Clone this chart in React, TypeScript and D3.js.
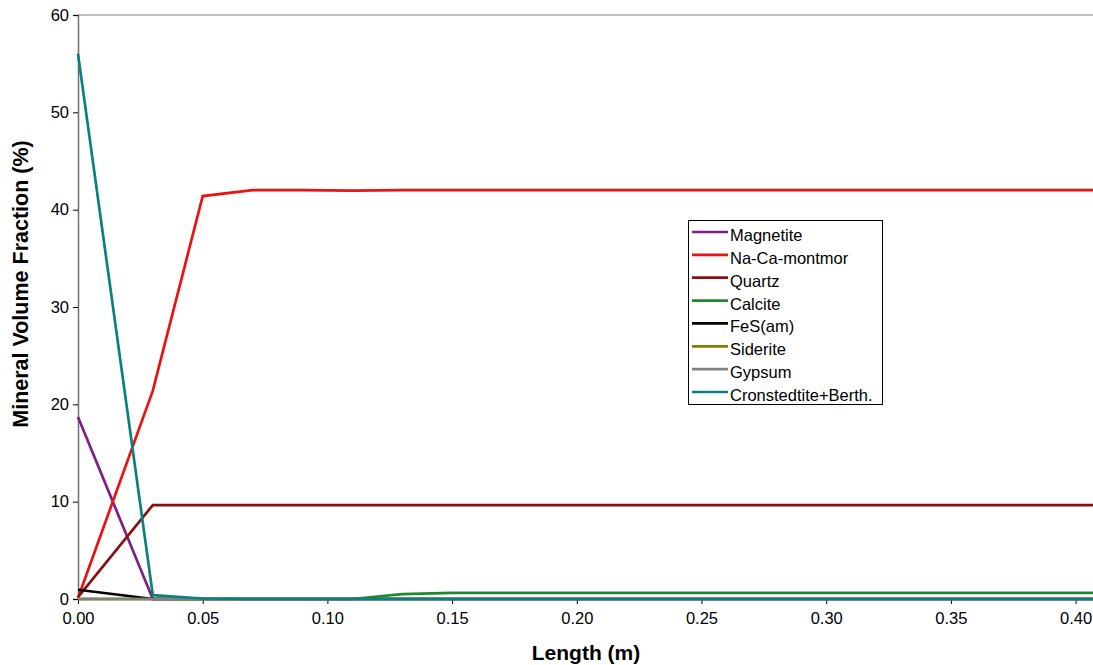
import React, { useEffect, useRef } from 'react';
import * as d3 from 'd3';

const lengths = [0, 0.03, 0.05, 0.07, 0.09, 0.11, 0.13, 0.15, 0.17, 0.19, 0.21, 0.23, 0.25, 0.27, 0.29, 0.31, 0.33, 0.35, 0.37, 0.39, 0.41];

const magnetite = [18.7, 0, 0, 0, 0, 0, 0, 0, 0, 0, 0, 0, 0, 0, 0, 0, 0, 0, 0, 0, 0];
const naCaMontmor = [0.1, 21.4, 41.4, 42.0, 42.0, 41.95, 42.0, 42.0, 42.0, 42.0, 42.0, 42.0, 42.0, 42.0, 42.0, 42.0, 42.0, 42.0, 42.0, 42.0, 42.0];
const quartz = [0.2, 9.65, 9.65, 9.65, 9.65, 9.65, 9.65, 9.65, 9.65, 9.65, 9.65, 9.65, 9.65, 9.65, 9.65, 9.65, 9.65, 9.65, 9.65, 9.65, 9.65];
const calcite = [0, 0, 0, 0, 0, 0, 0.5, 0.62, 0.62, 0.62, 0.62, 0.62, 0.62, 0.62, 0.62, 0.62, 0.62, 0.62, 0.62, 0.62, 0.62];
const fes = [0.95, 0, 0, 0, 0, 0, 0, 0, 0, 0, 0, 0, 0, 0, 0, 0, 0, 0, 0, 0, 0];
const siderite = [0, 0, 0, 0, 0, 0, 0, 0, 0, 0, 0, 0, 0, 0, 0, 0, 0, 0, 0, 0, 0];
const gypsum = [0, 0, 0, 0, 0, 0, 0, 0, 0, 0, 0, 0, 0, 0, 0, 0, 0, 0, 0, 0, 0];
const cronstedtite = [56.0, 0.4, 0.05, 0, 0, 0, 0, 0, 0, 0, 0, 0, 0, 0, 0, 0, 0, 0, 0, 0, 0];

const seriesNames = ['Magnetite', 'Na-Ca-montmor', 'Quartz', 'Calcite', 'FeS(am)', 'Siderite', 'Gypsum', 'Cronstedtite+Berth.'];
const seriesValues = [magnetite, naCaMontmor, quartz, calcite, fes, siderite, gypsum, cronstedtite];
const seriesColors = ['#7f1f86', '#ee1111', '#8a1010', '#1a8a2e', '#000000', '#808000', '#808080', '#0a8080'];

const xTicks = [0, 0.05, 0.1, 0.15, 0.2, 0.25, 0.3, 0.35, 0.4];
const yTicks = [0, 10, 20, 30, 40, 50, 60];

export default function App() {
  const ref = useRef<SVGSVGElement>(null);

  useEffect(() => {
    const svg = d3.select(ref.current);
    svg.selectAll('*').remove();

    const left = 78, top = 15, bottom = 599, right = 1093;
    const x = d3.scaleLinear().domain([0, 0.05]).range([left, left + 124.7]);
    const y = d3.scaleLinear().domain([0, 60]).range([bottom, top]);
    const font = 'Liberation Sans, Arial, sans-serif';

    svg.append('defs').append('clipPath').attr('id', 'plotclip')
      .append('rect').attr('x', left - 3).attr('y', top - 3).attr('width', right - left + 3).attr('height', bottom - top + 6);

    // plot border
    svg.append('line').attr('x1', left).attr('x2', right).attr('y1', top).attr('y2', top)
      .attr('stroke', '#808080').attr('stroke-width', 1.2);

    const yAxis = svg.append('g').attr('transform', `translate(${left},0)`)
      .call(d3.axisLeft(y).tickValues(yTicks).tickSize(5).tickPadding(4).tickFormat(d3.format('d')));
    yAxis.select('.domain').attr('stroke', '#707070').attr('stroke-width', 1.5);
    yAxis.selectAll('.tick line').attr('stroke', '#000');
    yAxis.selectAll('text').attr('font-family', font).attr('font-size', 16.5).attr('fill', '#000');

    const xAxis = svg.append('g').attr('transform', `translate(0,${bottom})`)
      .call(d3.axisBottom(x).tickValues(xTicks).tickSize(5).tickPadding(8).tickFormat(d3.format('.2f')));
    xAxis.select('.domain').attr('d', `M${left},0H${right}`).attr('stroke', '#808080').attr('stroke-width', 1.5);
    xAxis.selectAll('.tick line').attr('stroke', '#000');
    xAxis.selectAll('text').attr('font-family', font).attr('font-size', 16.5).attr('fill', '#000');

    const plot = svg.append('g').attr('clip-path', 'url(#plotclip)');
    seriesValues.forEach((vals, i) => {
      const line = d3.line<number>()
        .x((_, j) => x(lengths[j]))
        .y(d => y(d));
      plot.append('path')
        .datum(vals)
        .attr('fill', 'none')
        .attr('stroke', seriesColors[i])
        .attr('stroke-width', 2.7)
        .attr('stroke-linejoin', 'miter')
        .attr('d', line);
    });

    // axis titles
    svg.append('text')
      .attr('x', 586).attr('y', 660)
      .attr('text-anchor', 'middle')
      .attr('font-family', font).attr('font-weight', 'bold').attr('font-size', 21)
      .text('Length (m)');
    svg.append('text')
      .attr('transform', 'translate(28,284) rotate(-90)')
      .attr('text-anchor', 'middle')
      .attr('font-family', font).attr('font-weight', 'bold').attr('font-size', 21.5)
      .text('Mineral Volume Fraction (%)');

    // legend
    const lg = svg.append('g');
    lg.append('rect').attr('x', 688.5).attr('y', 220.5).attr('width', 194).attr('height', 184)
      .attr('fill', '#fff').attr('stroke', '#000').attr('stroke-width', 1);
    seriesNames.forEach((name, i) => {
      const cy = 232 + i * 22.86;
      lg.append('line').attr('x1', 692).attr('x2', 728).attr('y1', cy).attr('y2', cy)
        .attr('stroke', seriesColors[i]).attr('stroke-width', 2.7);
      lg.append('text').attr('x', 730).attr('y', cy + 9)
        .attr('font-family', font).attr('font-size', 16.5).attr('fill', '#000')
        .text(name);
    });
  }, []);

  return (
    <svg ref={ref} width={1093} height={665} style={{ position: 'absolute', left: 0, top: 0, background: '#fff' }} />
  );
}
